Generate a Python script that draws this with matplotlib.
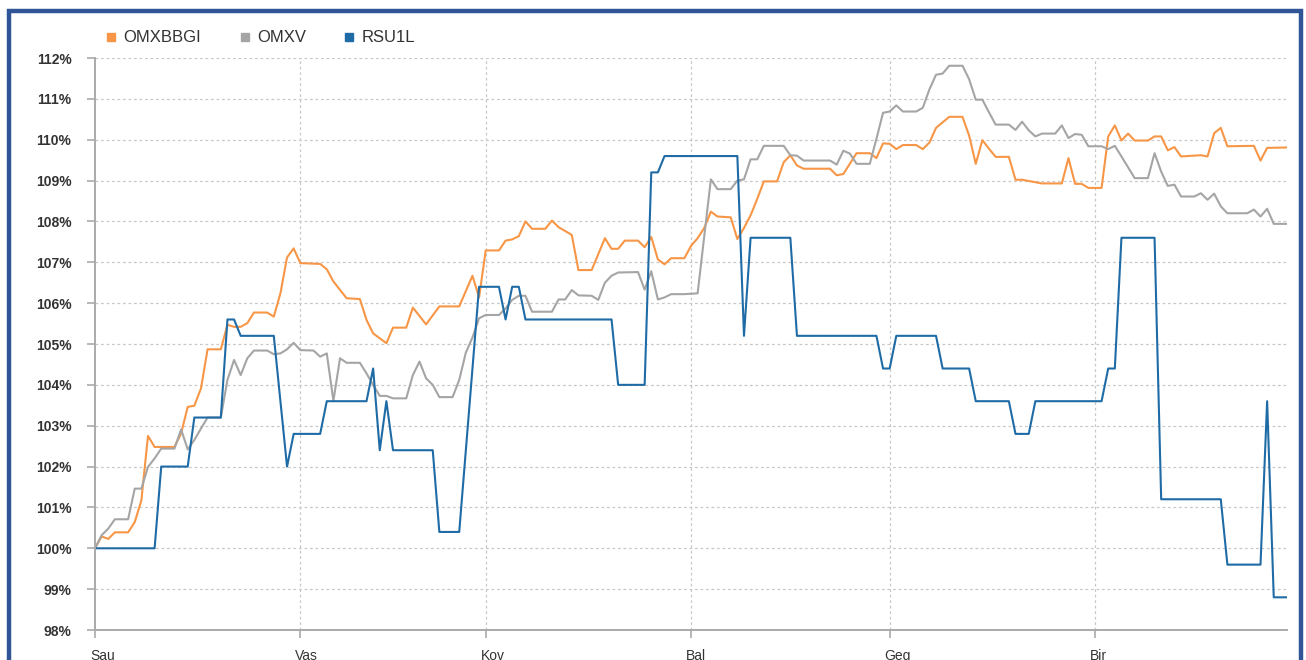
import matplotlib
matplotlib.use("Agg")
import matplotlib.pyplot as plt
import matplotlib.transforms as mtransforms
from matplotlib.lines import Line2D
from matplotlib.patches import Rectangle
import numpy as np

# ------------------------------------------------------------------
# Data: day offset from 1 January, value in % of starting level
# ------------------------------------------------------------------
month_labels = ["Sau", "Vas", "Kov", "Bal", "Geg", "Bir"]
month_lengths = [31, 28, 31, 30, 31]

omxbbgi_days = [0, 1, 2, 3, 5, 6, 7, 8, 9, 12, 13, 14, 15, 16, 17, 19, 20, 21, 22, 23,
                24, 26, 27, 28, 29, 30, 31, 34, 35, 36, 38, 40, 41, 42, 44, 45, 47, 48, 50, 52,
                55, 57, 58, 59, 61, 62, 63, 64, 65, 66, 68, 69, 70, 72, 73, 75, 77, 78, 79, 80,
                82, 83, 84, 85, 86, 87, 89, 90, 91, 92, 93, 94, 96, 97, 98, 99, 100, 101, 103, 104,
                105, 106, 107, 111, 112, 113, 115, 117, 118, 119, 120, 121, 122, 124, 125, 126, 127, 129, 131, 132,
                133, 134, 135, 136, 138, 139, 140, 143, 146, 147, 148, 149, 150, 152, 153, 154, 155, 156, 157, 159,
                160, 161, 162, 163, 164, 167, 168, 169, 170, 171, 175, 176, 177, 180]
omxbbgi_vals = [100.0, 100.29, 100.23, 100.39, 100.39, 100.64, 101.17, 102.75, 102.48, 102.48, 102.81, 103.46, 103.49, 103.91, 104.87, 104.87, 105.47, 105.42, 105.42, 105.51,
                105.77, 105.77, 105.67, 106.24, 107.12, 107.34, 106.98, 106.96, 106.83, 106.53, 106.12, 106.10, 105.59, 105.26, 105.02, 105.40, 105.40, 105.89, 105.48, 105.92,
                105.92, 106.67, 106.14, 107.29, 107.29, 107.53, 107.56, 107.64, 108.0, 107.82, 107.82, 108.02, 107.86, 107.67, 106.81, 106.81, 107.59, 107.33, 107.33, 107.53,
                107.53, 107.37, 107.62, 107.07, 106.95, 107.10, 107.10, 107.40, 107.59, 107.84, 108.24, 108.12, 108.10, 107.57, 107.84, 108.15, 108.55, 108.98, 108.98, 109.45,
                109.62, 109.37, 109.29, 109.29, 109.13, 109.16, 109.67, 109.67, 109.55, 109.91, 109.90, 109.77, 109.87, 109.87, 109.77, 109.93, 110.29, 110.56, 110.56, 110.10,
                109.41, 109.99, 109.78, 109.58, 109.58, 109.02, 109.02, 108.93, 108.93, 109.55, 108.92, 108.92, 108.82, 108.82, 110.08, 110.35, 109.98, 110.15, 109.98, 109.98,
                110.08, 110.08, 109.74, 109.82, 109.59, 109.62, 109.59, 110.16, 110.29, 109.84, 109.85, 109.49, 109.80, 109.81]

omxv_days = [0, 1, 2, 3, 5, 6, 7, 8, 9, 10, 12, 13, 14, 15, 16, 17, 19, 20, 21, 22,
             23, 24, 26, 27, 28, 29, 30, 31, 33, 34, 35, 36, 37, 38, 40, 41, 42, 43, 44, 45,
             47, 48, 49, 50, 51, 52, 54, 55, 56, 57, 58, 59, 61, 62, 63, 64, 65, 66, 69, 70,
             71, 72, 73, 75, 76, 77, 78, 79, 82, 83, 84, 85, 86, 87, 89, 91, 93, 94, 96, 97,
             98, 99, 100, 101, 104, 105, 106, 107, 111, 112, 113, 114, 115, 117, 118, 119, 120, 121, 122, 124,
             125, 126, 127, 128, 129, 131, 132, 133, 134, 135, 136, 138, 139, 140, 141, 142, 143, 145, 146, 147,
             148, 149, 150, 152, 153, 154, 155, 157, 159, 160, 161, 162, 163, 164, 166, 167, 168, 169, 170, 171,
             174, 175, 176, 177, 178, 180]
omxv_vals = [100.0, 100.32, 100.48, 100.71, 100.71, 101.46, 101.46, 101.99, 102.20, 102.44, 102.44, 102.91, 102.42, 102.65, 102.93, 103.20, 103.20, 104.12, 104.61, 104.24,
             104.65, 104.84, 104.84, 104.75, 104.77, 104.87, 105.03, 104.85, 104.84, 104.69, 104.77, 103.61, 104.65, 104.54, 104.54, 104.28, 104.0, 103.73, 103.73, 103.67,
             103.67, 104.24, 104.57, 104.16, 104.0, 103.70, 103.70, 104.12, 104.79, 105.16, 105.63, 105.71, 105.71, 105.87, 106.08, 106.18, 106.18, 105.79, 105.79, 106.09,
             106.09, 106.32, 106.19, 106.18, 106.08, 106.50, 106.67, 106.75, 106.76, 106.33, 106.78, 106.09, 106.14, 106.22, 106.22, 106.24, 109.03, 108.79, 108.79, 109.0,
             109.03, 109.52, 109.52, 109.85, 109.85, 109.62, 109.61, 109.49, 109.49, 109.39, 109.73, 109.66, 109.41, 109.41, 110.02, 110.66, 110.69, 110.84, 110.69, 110.69,
             110.78, 111.23, 111.59, 111.62, 111.81, 111.81, 111.48, 110.98, 110.98, 110.67, 110.37, 110.37, 110.24, 110.44, 110.23, 110.08, 110.15, 110.15, 110.35, 110.04,
             110.14, 110.12, 109.84, 109.84, 109.77, 109.85, 109.59, 109.06, 109.06, 109.67, 109.22, 108.87, 108.90, 108.61, 108.61, 108.69, 108.53, 108.68, 108.37, 108.20,
             108.20, 108.29, 108.12, 108.31, 107.94, 107.94]

rsu1l_days = [0, 9, 10, 14, 15, 19, 20, 21, 22, 27, 29, 30, 34, 35, 41, 42, 43, 44, 45, 51,
              52, 55, 58, 61, 62, 63, 64, 65, 78, 79, 83, 84, 85, 86, 97, 98, 99, 105, 106, 118,
              119, 120, 121, 127, 128, 132, 133, 138, 139, 141, 142, 152, 153, 154, 155, 160, 161, 170, 171, 176,
              177, 178, 180]
rsu1l_vals = [100.0, 100.0, 102.0, 102.0, 103.2, 103.2, 105.6, 105.6, 105.2, 105.2, 102.0, 102.8, 102.8, 103.6, 103.6, 104.4, 102.4, 103.6, 102.4, 102.4,
              100.4, 100.4, 106.4, 106.4, 105.6, 106.4, 106.4, 105.6, 105.6, 104.0, 104.0, 109.2, 109.2, 109.6, 109.6, 105.2, 107.6, 107.6, 105.2, 105.2,
              104.4, 104.4, 105.2, 105.2, 104.4, 104.4, 103.6, 103.6, 102.8, 102.8, 103.6, 103.6, 104.4, 104.4, 107.6, 107.6, 101.2, 101.2, 99.6, 99.6,
              103.6, 98.8, 98.8]

series = [
    ("OMXBBGI", omxbbgi_days, omxbbgi_vals, "#F79646"),
    ("OMXV", omxv_days, omxv_vals, "#A5A5A5"),
    ("RSU1L", rsu1l_days, rsu1l_vals, "#1F6BA6"),
]

# ------------------------------------------------------------------
# Figure
# ------------------------------------------------------------------
plt.rcParams["font.family"] = ["Liberation Sans", "DejaVu Sans"]

W, H = 1306, 660
fig = plt.figure(figsize=(W / 100, H / 100), dpi=100)
fig.patch.set_facecolor("white")

ax = fig.add_axes([95 / W, 1 - 630 / H, (1287 - 95) / W, (630 - 58) / H])

for name, days, vals, color in series:
    ax.plot(days, vals, color=color, lw=1.5, solid_joinstyle="round")

month_starts = np.concatenate([[0], np.cumsum(month_lengths)])
ax.set_xlim(0, 180)
ax.set_ylim(98, 112)

ax.set_yticks(np.arange(98, 113, 1))
ax.set_yticklabels([f"{v}%" for v in range(98, 113)])
ax.set_xticks(month_starts)
ax.set_xticklabels(month_labels)

grid_kw = dict(color="#C8C8C8", lw=0.9, ls=(0, (2.2, 2.2)), zorder=0)
for y in range(99, 113):
    ax.axhline(y, **grid_kw)
for x in month_starts[1:]:
    ax.axvline(x, **grid_kw)

for side in ("top", "right"):
    ax.spines[side].set_visible(False)
for side in ("left", "bottom"):
    ax.spines[side].set_color("#AAAAAA")
    ax.spines[side].set_linewidth(1.4)

ax.tick_params(axis="y", length=6, width=1.2, color="#AAAAAA", pad=11,
               labelsize=10, labelcolor="#333333")
# month labels sit at the bottom edge and are cropped, as in the original
ax.tick_params(axis="x", length=6, width=1.2, color="#AAAAAA", pad=8,
               labelsize=10, labelcolor="#333333")
for lbl in ax.get_yticklabels():
    lbl.set_fontweight("bold")
shift = mtransforms.ScaledTranslation(-5 / 100, 0, fig.dpi_scale_trans)
for lbl in ax.get_xticklabels():
    lbl.set_horizontalalignment("left")
    lbl.set_transform(lbl.get_transform() + shift)

handles = [Line2D([], [], ls="none", marker="s", markersize=6, color=c, label=n)
           for n, _, _, c in series]
fig.legend(handles=handles, loc="center left", bbox_to_anchor=(91 / W, 1 - 38 / H),
           ncol=3, frameon=False, fontsize=12, handlelength=0.6, handletextpad=0.45,
           columnspacing=2.3, labelcolor="#333333")

# dark blue frame round the picture (bottom edge falls outside the crop)
fig.patches.append(Rectangle((8.5 / W, -0.2), (1301 - 8.5) / W, 1.2 - 11 / H,
                             transform=fig.transFigure, fill=False,
                             edgecolor="#2F5597", lw=3.2))

fig.savefig("out.png", dpi=100)
